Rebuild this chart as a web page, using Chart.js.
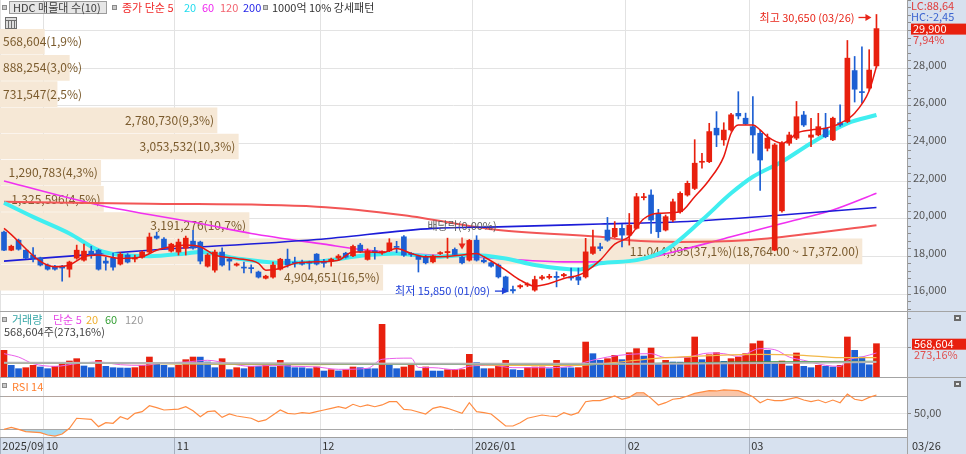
<!DOCTYPE html>
<html>
<head>
<meta charset="utf-8">
<script src="https://cdn.jsdelivr.net/npm/chart.js@4.4.1/dist/chart.umd.min.js"></script>
<style>
  html, body { margin: 0; padding: 0; background: #fff; }
  #wrap { width: 966px; height: 454px; }
</style>
</head>
<body>
<div id="wrap"><canvas id="c" width="966" height="454"></canvas></div>
<script>
// daily candles, 2025/09/23 .. 2026/03/26 (index = trading day)
const openPrice = [19090,18130,18660,18130,17870,17710,17340,17280,17280,17120,
  17710,17600,18080,18130,17550,17710,17390,17870,17660,17760,
  18030,18880,18720,18080,18030,18240,18610,18560,17280,17070,
  18030,17650,17330,17230,17200,16970,16640,16700,17120,17650,
  17500,17500,17500,17920,17460,17550,17710,17970,17830,18400,
  17640,18100,17990,18100,18330,18840,17950,17820,17780,17510,
  17950,18000,18170,17750,17600,18660,17600,17460,17340,16710,
  16040,16180,16280,16010,16630,16680,16740,16770,16720,16710,
  16710,17960,18310,19200,18840,19290,18930,19290,20920,21060,
  20090,19200,19730,20170,21060,21410,22800,22830,24610,23990,
  24520,25400,25140,24690,24340,23540,18130,20220,23810,24080,
  25310,24130,24250,24610,23990,24900,24960,27670,26550,26740,
  27920];
const highPrice = [19150,18400,18720,18150,18270,17760,17400,17330,17330,17550,
  18400,18450,18340,18180,17760,17970,18000,17950,17870,18100,
  19040,19090,18800,18500,18720,18880,19190,18610,17950,18130,
  18250,17710,17450,17500,17350,17020,16800,17500,17700,18190,
  17760,17600,17550,17950,17650,17710,17900,18020,18400,18490,
  18200,18280,18100,18740,18600,18900,18000,17870,17850,17870,
  18050,18770,18250,17800,18700,18900,17700,17500,17400,16750,
  16220,16300,16400,16750,16800,16850,16980,16900,17180,17180,
  18760,19200,18500,19870,19650,19500,20080,21150,21150,21330,
  20300,20000,20850,21230,21800,24000,23280,24870,25490,24900,
  25400,26550,25410,26290,24500,24300,23800,23900,24400,26030,
  25500,25130,25400,25400,25200,25850,29270,28420,28930,28780,
  30650];
const lowPrice = [18100,18100,18130,17680,17500,17290,17070,17070,16480,16700,
  17650,17550,17700,17070,17070,17070,17340,17450,17500,17700,
  17980,18720,18180,18030,17870,17870,18180,17400,17230,16960,
  17280,17070,17280,16920,16920,16650,16600,16650,17070,17230,
  17230,17340,17120,17340,17230,17280,17600,17710,17780,18000,
  17600,17650,17900,18050,18000,17800,17800,16970,17400,17460,
  17900,17700,17850,17400,17550,17550,17450,17230,16650,15900,
  15850,16100,16200,15950,16550,16600,16180,16700,16540,16300,
  16650,17900,18100,18600,18800,18300,18400,19250,20800,19020,
  18800,19150,19650,20100,21000,21350,22480,22780,23630,23700,
  24450,25100,24800,23280,21310,23400,18100,20150,23700,24000,
  24700,23630,24200,24100,23950,24700,24900,26000,25940,26600,
  27850];
const closePrice = [18130,18340,18180,17710,17710,17340,17120,17120,17180,17500,
  18130,18080,17870,17120,17440,17230,17920,17500,17710,18030,
  18830,18770,18240,18450,18560,18770,18240,17550,17870,18030,
  17340,17550,17400,17180,17150,16700,16750,17340,17650,17340,
  17440,17390,17440,17390,17440,17650,17820,17760,18330,18060,
  18100,18040,18060,18520,18280,17870,17900,17640,17460,17820,
  18000,18060,17900,17460,18650,17600,17510,17280,16710,15920,
  15970,16250,16330,16570,16710,16740,16680,16840,16650,16540,
  18040,18310,18220,18660,19290,18930,19460,20970,20970,19730,
  19110,19910,20700,21150,21680,22750,22850,24430,24250,24510,
  25320,25260,24840,24250,22920,24080,23720,23810,24250,25220,
  24780,24250,24690,24160,25140,24780,28330,26680,26500,27700,
  29900];
const volume = [455000,199000,142000,159000,199000,171000,142000,182000,239000,273000,
  313000,188000,159000,285000,182000,159000,154000,152000,160000,199000,
  341000,228000,199000,159000,199000,296000,341000,340000,256000,159000,
  313000,125000,159000,142000,182000,181000,199000,171000,285000,199000,
  159000,158000,142000,171000,102000,125000,104000,125000,171000,159000,
  142000,141000,899000,199000,142000,171000,199000,102000,171000,102000,
  101000,125000,126000,127000,387000,245000,142000,142000,199000,285000,
  125000,114000,165000,170000,172000,142000,285000,159000,156000,160000,
  597000,398000,285000,313000,370000,296000,415000,484000,358000,495000,
  216000,285000,256000,254000,330000,683000,296000,381000,415000,267000,
  313000,341000,398000,569000,614000,455000,256000,273000,188000,410000,
  182000,159000,199000,182000,171000,199000,683000,455000,341000,208158,
  568604];

// month separators (between trading days) and their labels
const monthTickIdx = [-0.5, 5.5, 23.5, 43.5, 64.5, 85.5, 102.5];
const monthTickLabels = ['2025/09', '10', '11', '12', '2026/01', '02', '03'];

// price moving averages (day index, value)
const ma5Idx = [0,7,9,11,13,16,19,21,23,25,27,29,32,35,36,38,40,43,46,48,50,52,54,56,58,60,63,65,66,69,71,73,75,77,79,80,82,84,86,88,90,93,95,97,99,100,101,103,104,105,107,108,109,111,113,115,117,119,120];
const ma5Val = [19290,17250,17340,17780,17870,17690,17780,18130,18310,18400,18310,17870,17690,17430,17070,17160,17430,17510,17600,18040,18040,17990,18220,17960,17780,17780,17870,17960,17780,17070,16540,16220,16360,16630,16800,16980,17600,18450,18850,19800,20090,20170,20970,21860,23100,24340,24780,24780,24520,24160,23810,23990,24340,24520,24610,24870,25410,26600,27890];
const ma20Idx = [0,4,9,13,16,20,25,27,32,38,43,50,54,59,64,69,73,79,82,87,91,96,100,103,107,111,116,120];
const ma20Val = [20650,19900,19020,18130,17870,17810,17960,18040,17690,17460,17510,17870,17960,17780,17870,17690,17340,17100,17430,17600,18130,19730,21150,22030,22830,23810,24870,25310];
const ma60Idx = [0,13,27,34,44,50,59,64,68,77,85,93,100,107,114,120];
const ma60Val = [21800,20530,19550,19020,18450,18130,17870,17780,17690,17510,17510,18130,18840,19550,20260,21150];
const ma120Idx = [0,20,43,55,68,82,86,93,102,111,120];
const ma120Val = [20700,20600,20440,19990,19200,18840,18660,18570,18660,19020,19460];
const ma200Idx = [0,20,43,59,68,82,93,107,120];
const ma200Val = [17550,18130,18700,19290,19370,19520,19640,20000,20400];

// volume moving averages
const vma5Idx = [0,2,4,7,10,13,16,19,22,25,28,31,34,37,40,43,46,50,52,56,57,59,62,64,67,70,74,78,80,83,86,89,91,94,97,99,101,104,106,108,110,113,115,116,118,120];
const vma5Val = [398000,341000,228000,182000,228000,256000,210000,199000,239000,256000,285000,228000,182000,199000,182000,171000,131000,148000,302000,322000,163000,159000,125000,182000,199000,159000,159000,182000,256000,341000,387000,398000,330000,341000,410000,398000,353000,484000,467000,341000,285000,199000,182000,285000,341000,410000];
const vma20Idx = [0,20,40,55,70,79,86,91,97,104,110,115,120];
const vma20Val = [239000,228000,210000,228000,199000,199000,273000,330000,364000,387000,370000,330000,330000];
const vma60Idx = [0,30,60,80,100,120];
const vma60Val = [239000,228000,216000,216000,256000,267000];
const vma120Idx = [0,60,90,120];
const vma120Val = [245000,228000,228000,256000];

// RSI 14
const rsiIdx = [0,1,2,3,5,6,7,8,9,10,12,13,14,15,16,17,18,19,20,21,22,24,25,26,27,28,29,30,31,32,34,35,36,38,39,40,41,42,43,44,45,46,47,48,49,50,51,52,53,54,55,56,58,59,60,61,63,64,65,66,67,68,69,70,71,72,74,75,76,77,78,79,80,81,82,83,84,85,86,87,88,89,90,91,92,93,94,95,97,98,99,101,102,103,104,105,106,107,109,110,111,112,113,114,115,116,117,118,119,120];
const rsiVal = [30.8,33.2,30.8,28,26.8,24,22.8,25.2,32,44,42.8,34,38.7,38,45.9,42.8,49.9,51.9,59,56.7,53.9,55,57.8,53,45.9,51.9,52.7,45.1,49.1,46.7,44,40,42,53.9,49.9,49.1,50.7,49.9,51.9,53.9,55.9,57.8,55.9,60.7,57.8,59.9,57.8,59.9,63.8,63.8,54.7,53.9,49.1,55.9,57.8,55.9,49.9,62.6,51.9,50.7,49.1,42,34.8,34.8,38.7,44,47.9,46.7,45.9,50.7,47.9,50.7,63.8,65,65,67.8,70.6,66.7,69,74.5,74.5,67.8,59.9,62.6,66.7,67.8,70.6,73.8,76.9,76.6,77.8,76.9,73.8,69.8,62.6,66.7,65,65,69,65.8,63.8,65.8,62.6,65.8,62.6,73,66.7,65,69,71.8];

// volume-by-price (매물대), 10 bins
const profileLow = [15980,17372,18764,20156,21548,22940,24332,25724,27116,28508];
const profileHigh = [17372,18764,20156,21548,22940,24332,25724,27116,28508,29900];
const profileVolume = [4904651,11044995,3191276,1325596,1290783,3053532,2780730,731547,888254,568604];
const profilePct = [16.5,37.1,10.7,4.5,4.3,10.3,9.3,2.5,3.0,1.9];

const FONT = '"Noto Sans CJK KR", "Noto Sans", sans-serif';
const RED = '#e8200e', BLUE = '#1d5fd3';
const days = closePrice.map((_, i) => i);

function candleColor(i) { return closePrice[i] >= openPrice[i] ? RED : BLUE; }
function volColor(i) { return (i === 0 || volume[i] >= volume[i - 1]) ? RED : BLUE; }
function pts(idx, val) { return idx.map((x, k) => ({ x: x, y: val[k] })); }
function maLine(idx, val, color, width, axis, order) {
  return { type: 'line', data: pts(idx, val), borderColor: color, borderWidth: width,
    pointRadius: 0, cubicInterpolationMode: 'monotone', xAxisID: 'x', yAxisID: axis, order: order };
}

const datasets = [
  { type: 'bar', label: 'profile', indexAxis: 'y', xAxisID: 'xProf', yAxisID: 'y', grouped: false,
    data: profileLow.map((lo, k) => ({ x: profileVolume[k], y: (lo + profileHigh[k]) / 2 })),
    backgroundColor: '#f6e8d6', barThickness: 25, order: 20 },
  maLine(ma200Idx, ma200Val, '#1c1cd8', 1.6, 'y', 9),
  maLine(ma120Idx, ma120Val, '#f25656', 2, 'y', 9),
  maLine(ma60Idx, ma60Val, '#f030f0', 1.6, 'y', 9),
  maLine(ma20Idx, ma20Val, '#40eef0', 4, 'y', 8),
  { type: 'bar', label: 'wick', xAxisID: 'x', yAxisID: 'y', grouped: false,
    data: days.map(i => ({ x: i, y: [lowPrice[i], highPrice[i]] })),
    backgroundColor: c => candleColor(c.dataIndex), barThickness: 1, order: 6 },
  { type: 'bar', label: 'body', xAxisID: 'x', yAxisID: 'y', grouped: false,
    data: days.map(i => ({ x: i, y: [openPrice[i], closePrice[i]] })),
    backgroundColor: c => candleColor(c.dataIndex), barThickness: 5, minBarLength: 1, order: 5 },
  maLine(ma5Idx, ma5Val, '#e81810', 1.5, 'y', 3),
  { type: 'bar', label: 'volume', xAxisID: 'x', yAxisID: 'yVol', grouped: false,
    data: days.map(i => ({ x: i, y: volume[i] })),
    backgroundColor: c => volColor(c.dataIndex), barThickness: 6, order: 5 },
  maLine(vma120Idx, vma120Val, '#b4b4b4', 2, 'yVol', 2),
  maLine(vma60Idx, vma60Val, '#3c9c3c', 1.2, 'yVol', 2),
  maLine(vma20Idx, vma20Val, '#f2b848', 1.2, 'yVol', 2),
  maLine(vma5Idx, vma5Val, '#ea60ea', 1, 'yVol', 2),
  { type: 'line', data: pts(rsiIdx, rsiVal), borderWidth: 0, pointRadius: 0, xAxisID: 'x', yAxisID: 'yRsi',
    fill: { target: { value: 30 }, above: 'rgba(0,0,0,0)', below: '#a6dcf2' }, order: 2 },
  { type: 'line', data: pts(rsiIdx, rsiVal), borderColor: '#ff8c42', borderWidth: 1.2, pointRadius: 0,
    xAxisID: 'x', yAxisID: 'yRsi', fill: { target: { value: 70 }, above: 'rgba(245,150,95,0.55)', below: 'rgba(0,0,0,0)' }, order: 1 }
];

function fitRight(s) { s.width = 59; s.paddingTop = 0; s.paddingBottom = 0; }
const tickFont = { size: 11, family: FONT };

function txt(ctx, s, x, y, color, align, size) {
  ctx.font = (size || 11) + 'px ' + FONT;
  ctx.fillStyle = color;
  ctx.textAlign = align || 'left';
  ctx.textBaseline = 'middle';
  ctx.fillText(s, x, y);
}
function square(ctx, x, y) {
  ctx.fillStyle = '#c8c8c8'; ctx.fillRect(x, y, 5, 5);
  ctx.strokeStyle = '#8a8a8a'; ctx.lineWidth = 1; ctx.strokeRect(x + 0.5, y + 0.5, 4, 4);
}
function arrowRight(ctx, x1, x2, y, color) {
  ctx.strokeStyle = color; ctx.fillStyle = color; ctx.lineWidth = 1.3;
  ctx.beginPath(); ctx.moveTo(x1, y); ctx.lineTo(x2 - 4, y); ctx.stroke();
  ctx.beginPath(); ctx.moveTo(x2, y); ctx.lineTo(x2 - 6, y - 3.5); ctx.lineTo(x2 - 6, y + 3.5); ctx.closePath(); ctx.fill();
}
function arrowDown(ctx, x, y1, y2, color) {
  ctx.strokeStyle = color; ctx.fillStyle = color; ctx.lineWidth = 1.3;
  ctx.beginPath(); ctx.moveTo(x, y1); ctx.lineTo(x, y2 - 4); ctx.stroke();
  ctx.beginPath(); ctx.moveTo(x, y2); ctx.lineTo(x - 3.5, y2 - 6); ctx.lineTo(x + 3.5, y2 - 6); ctx.closePath(); ctx.fill();
}
function fmt2(v) { return v.toLocaleString('en-US', { minimumFractionDigits: 2, maximumFractionDigits: 2 }); }

const background = {
  id: 'background',
  beforeDraw(chart) {
    const { ctx, chartArea: a, width, height } = chart;
    ctx.save();
    ctx.fillStyle = '#fff'; ctx.fillRect(0, 0, width, height);
    ctx.fillStyle = '#d7e1ef';
    ctx.fillRect(a.right, 0, width - a.right, height);
    ctx.fillRect(0, a.bottom, width, height - a.bottom);
    ctx.restore();
  }
};

const overlay = {
  id: 'overlay',
  afterDatasetDraw(chart, args) {
    if (args.index !== 0) return;
    const ctx = chart.ctx;
    const meta = chart.getDatasetMeta(0);
    const maxK = profileVolume.indexOf(Math.max(...profileVolume));
    ctx.save();
    ctx.font = '12px ' + FONT;
    meta.data.forEach((bar, k) => {
      let s = profileVolume[k].toLocaleString('en-US') + '(' + profilePct[k].toFixed(1).replace('.', ',') + '%)';
      if (k === maxK) s += '(' + fmt2(profileHigh[k]) + ' ~ ' + fmt2(profileLow[k]) + ')';
      const w = ctx.measureText(s).width;
      if (bar.x - w - 4 > 2) txt(ctx, s, bar.x - 3, bar.y, '#7a5a2c', 'right', 12);
      else txt(ctx, s, 3, bar.y, '#7a5a2c', 'left', 12);
    });
    ctx.restore();
  },
  afterDraw(chart) {
    const { ctx, chartArea: a, width } = chart;
    const sx = chart.scales.x, sy = chart.scales.y, sv = chart.scales.yVol, sr = chart.scales.yRsi;
    ctx.save();
    // pane separators
    ctx.strokeStyle = '#a4a4a4'; ctx.lineWidth = 1;
    [sv.top, sr.top].forEach(y => {
      ctx.beginPath(); ctx.moveTo(0, Math.round(y) + 0.5); ctx.lineTo(width, Math.round(y) + 0.5); ctx.stroke();
    });
    ctx.beginPath(); ctx.moveTo(a.right + 0.5, a.bottom); ctx.lineTo(a.right + 0.5, chart.height); ctx.stroke();

    // high / low / ex-dividend marks
    const last = closePrice.length - 1;
    const hiIdx = highPrice.indexOf(Math.max(...highPrice));
    const loIdx = lowPrice.indexOf(Math.min(...lowPrice));
    const xh = sx.getPixelForValue(hiIdx), yh = sy.getPixelForValue(highPrice[hiIdx]) + 3;
    txt(ctx, '최고 ' + highPrice[hiIdx].toLocaleString('en-US') + ' (03/26)', xh - 22, yh, '#e8261a', 'right');
    arrowRight(ctx, xh - 18, xh - 5, yh, '#e8261a');
    const xl = sx.getPixelForValue(loIdx), yl = sy.getPixelForValue(lowPrice[loIdx]) - 2;
    txt(ctx, '최저 ' + lowPrice[loIdx].toLocaleString('en-US') + ' (01/09)', xl - 23, yl, '#2040d8', 'right');
    arrowRight(ctx, xl - 18, xl - 5, yl, '#2040d8');
    const xd = sx.getPixelForValue(63), yd = sy.getPixelForValue(highPrice[63]);
    txt(ctx, '배당락(0,00%)', xd, yd - 31, '#5a5a5a', 'center');
    arrowDown(ctx, xd, yd - 19, yd - 7, '#e8261a');

    // price pane legend
    square(ctx, 2, 5);
    ctx.fillStyle = '#e6e6e6'; ctx.fillRect(9, 1, 97, 13);
    ctx.strokeStyle = '#9c9c9c'; ctx.strokeRect(9.5, 1.5, 97, 12);
    txt(ctx, 'HDC 매물대 수(10)', 13, 8, '#3c3c3c');
    square(ctx, 112, 5);
    txt(ctx, '종가 단순 5', 122, 8, '#f02828');
    txt(ctx, '20', 184, 8, '#22dcee');
    txt(ctx, '60', 202, 8, '#f028f0');
    txt(ctx, '120', 220, 8, '#f26470');
    txt(ctx, '200', 243, 8, '#2828e8');
    square(ctx, 263, 5);
    txt(ctx, '1000억 10% 강세패턴', 272, 8, '#333');
    ctx.fillStyle = '#dedede'; ctx.fillRect(5, 17, 12, 12);
    ctx.strokeStyle = '#6e6e6e'; ctx.strokeRect(5.5, 17.5, 11, 11);
    ctx.beginPath();
    [8.5, 11.5, 14.5].forEach(x => { ctx.moveTo(x, 20); ctx.lineTo(x, 28); });
    ctx.moveTo(6, 20.5); ctx.lineTo(16, 20.5);
    ctx.stroke();

    // volume pane legend
    const vt = sv.top;
    square(ctx, 2, vt + 6);
    txt(ctx, '거래량', 12, vt + 9, '#36a6a6');
    txt(ctx, '단순 5', 53, vt + 9, '#e848e8');
    txt(ctx, '20', 86, vt + 9, '#f0b030');
    txt(ctx, '60', 105, vt + 9, '#36a036');
    txt(ctx, '120', 125, vt + 9, '#9a9a9a');
    const vPct = (volume[last] / volume[last - 1] * 100).toFixed(2).replace('.', ',');
    txt(ctx, volume[last].toLocaleString('en-US') + '주(' + vPct + '%)', 4, vt + 21, '#444');

    // RSI pane legend
    square(ctx, 2, sr.top + 6);
    txt(ctx, 'RSI 14', 12, sr.top + 10, '#ff8030');

    // right axis labels
    const rx = a.right + 4;
    txt(ctx, 'LC:88,64', rx, 6, '#e03c3c');
    txt(ctx, 'HC:-2,45', rx, 17, '#3c64d0');
    const yc = sy.getPixelForValue(closePrice[last]);
    ctx.fillStyle = '#e8200e'; ctx.fillRect(rx, yc - 5, width - rx, 11);
    txt(ctx, closePrice[last].toLocaleString('en-US'), rx + 2, yc + 0.5, '#fff');
    const chg = ((closePrice[last] / closePrice[last - 1] - 1) * 100).toFixed(2).replace('.', ',');
    txt(ctx, chg + '%', rx + 2, yc + 11, '#e04040');
    const yv = sv.getPixelForValue(volume[last]);
    ctx.fillStyle = '#e8200e'; ctx.fillRect(rx + 1, yv - 5, width - rx - 1, 11);
    txt(ctx, volume[last].toLocaleString('en-US'), rx + 3, yv + 0.5, '#fff');
    txt(ctx, vPct + '%', rx + 3, yv + 11, '#e05050');
    [sv.top + 4, sr.top + 4].forEach(y => {
      ctx.fillStyle = '#6a6a6a'; ctx.fillRect(width - 12, y, 7, 6);
      ctx.fillStyle = '#e8e8e8'; ctx.fillRect(width - 10, y + 2, 3, 2);
    });
    txt(ctx, '03/26', a.right + 5, a.bottom + 9, '#333');
    ctx.restore();
  }
};

new Chart(document.getElementById('c'), {
  type: 'bar',
  data: { datasets: datasets },
  options: {
    responsive: false,
    animation: false,
    events: [],
    layout: { padding: 0 },
    plugins: { legend: { display: false }, tooltip: { enabled: false } },
    scales: {
      x: {
        type: 'linear', axis: 'x', position: 'bottom', min: -0.55, max: 124.2, offset: false,
        afterBuildTicks: s => { s.ticks = monthTickIdx.map(v => ({ value: v })); },
        ticks: { autoSkip: false, maxRotation: 0, align: 'start', labelOffset: 2, padding: -15,
          color: '#333', font: tickFont, callback: (v, k) => monthTickLabels[k] },
        grid: { offset: false, color: '#e2e2e2', tickLength: 17, tickColor: '#a6afbe' },
        border: { color: '#a0a0a0' },
        afterFit: s => { s.height = 17; s.paddingLeft = 0; s.paddingRight = 0; }
      },
      xProf: {
        type: 'linear', axis: 'x', display: false, min: 0, max: 11622000, offset: false
      },
      y: {
        type: 'linear', axis: 'y', position: 'right', stack: 'panes', stackWeight: 311,
        min: 15101, max: 31218,
        afterBuildTicks: s => { const t = []; for (let v = 15200; v <= 31200; v += 400) t.push({ value: v }); s.ticks = t; },
        ticks: { autoSkip: false, padding: 2, color: '#555', font: tickFont,
          callback: v => (v % 2000 === 0 && v < 30000) ? v.toLocaleString('en-US') : '' },
        grid: { color: c => (c.tick && c.tick.value % 2000 === 0) ? '#e3e3e3' : 'rgba(0,0,0,0)',
          tickLength: 4, tickColor: '#8c8c8c' },
        border: { color: '#a0a0a0' },
        afterFit: fitRight
      },
      yVol: {
        type: 'linear', axis: 'y', position: 'right', stack: 'panes', stackWeight: 66,
        min: 0, max: 1126600,
        afterBuildTicks: s => { s.ticks = [{ value: 500000 }, { value: 1000000 }]; },
        ticks: { autoSkip: false, padding: 2, font: tickFont, callback: () => '' },
        grid: { color: c => (c.tick && c.tick.value === 500000) ? '#e3e3e3' : 'rgba(0,0,0,0)',
          tickLength: 4, tickColor: '#8c8c8c' },
        border: { color: '#a0a0a0' },
        afterFit: fitRight
      },
      yRsi: {
        type: 'linear', axis: 'y', position: 'right', stack: 'panes', stackWeight: 60,
        min: 21.64, max: 93.28,
        afterBuildTicks: s => { s.ticks = [{ value: 30 }, { value: 50 }, { value: 70 }]; },
        ticks: { autoSkip: false, padding: 3, color: '#555', font: tickFont,
          callback: v => v === 50 ? '50,00' : '' },
        grid: { color: c => (c.tick && c.tick.value === 50) ? '#e6e6e6' : '#a8a8a8',
          tickLength: 4, tickColor: c => (c.tick && c.tick.value === 50) ? '#8c8c8c' : 'rgba(0,0,0,0)' },
        border: { color: '#a0a0a0' },
        afterFit: fitRight
      }
    }
  },
  plugins: [background, overlay]
});
</script>
</body>
</html>
